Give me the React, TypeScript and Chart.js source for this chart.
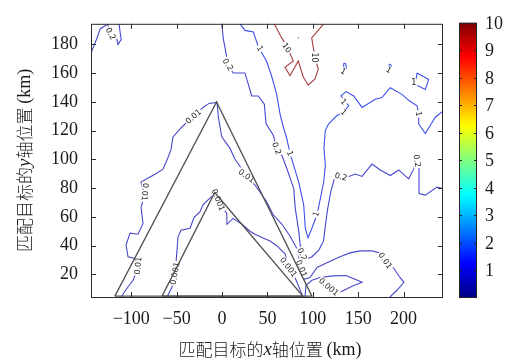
import React, { useEffect, useRef } from 'react';
import { Chart, registerables } from 'chart.js';

Chart.register(...registerables);

type Pt = [number, number];

// ---------- axes ----------
const xRange: [number, number] = [-144.3, 243.4];
const yRange: [number, number] = [4.3, 194.4];
const xTickValues = [-100, -50, 0, 50, 100, 150, 200];
const yTickValues = [20, 40, 60, 80, 100, 120, 140, 160, 180];
const colorbarRange: [number, number] = [0, 10];
const colorbarTicks = [1, 2, 3, 4, 5, 6, 7, 8, 9, 10];

// ---------- reference triangles ----------
const outerTriangle: Pt[] = [[-118, 4.9], [-6, 140], [99, 4.9], [-118, 4.9]];
const innerTriangle: Pt[] = [[-66, 4.9], [-8, 77], [89, 4.9], [-66, 4.9]];

// ---------- contour lines (level 0.2) ----------
const level02TopLeft: Pt[] = [
  [-144.3, 174], [-138, 184], [-134, 191], [-126, 194], [-122, 188], [-116.4, 185.3],
  [-114.5, 180], [-111, 183.6], [-112.3, 188.7], [-113.4, 194.4],
];
const level02Main: Pt[] = [
  [-0.3, 194.4], [1.4, 184.1], [4.1, 175], [6.9, 165], [12.4, 160.2], [25.3, 160.2], [29, 152.2],
  [32.7, 144.2], [40, 144.2], [46.6, 138.5], [48.5, 124.8], [56.5, 116.9], [60.2, 107.7],
  [66.1, 102.5], [71.6, 93.4], [79, 79.7], [80.7, 66], [84.5, 50.1], [86.2, 39.8], [88.1, 34.1],
  [91.4, 30.2], [99.1, 32.3], [106.8, 37.1], [111.8, 43.3], [113.8, 53.5], [116.2, 65.1],
  [120, 78.1], [124.8, 88.8], [131, 88], [137.7, 87.7], [146.8, 89.9], [154.2, 88.2],
  [165.2, 96.8], [174.3, 92.7], [185.4, 88.8], [194.6, 92.7], [205.6, 86.5], [211.5, 93.8],
  [214.8, 101.4], [217, 93.8], [217, 76.3], [223.9, 75.2], [236.8, 80.8], [245, 79.5],
];

// ---------- contour lines (level 1) ----------
const level1Main: Pt[] = [
  [19.8, 194.4], [25.3, 189.8], [34.5, 188.7], [36.3, 185.3], [40, 178.4], [49.2, 168.2],
  [54.7, 157.9], [60.2, 145.3], [63.9, 131.7], [67.5, 122.6], [71.3, 114.6], [74.9, 104.3],
  [79, 95.7], [84.5, 84.3], [90, 68.3], [91.7, 52.3], [94.7, 45.5], [99.1, 52.3], [104.6, 61.5],
  [108.3, 72.8], [112, 84.3], [113.8, 95.7], [112.3, 108.2], [113.8, 120.3], [117.5, 124.8],
  [126.6, 130.6], [134, 132.8], [139.5, 137.4], [135.1, 140.8], [131, 144.2], [136.6, 147.2],
  [145, 144.2], [154.2, 136.2], [168.8, 141.9], [176.2, 143.1], [185.3, 149.9], [198.2, 145.3],
  [206.3, 140.8], [214.8, 137.4], [216.6, 131.7], [216.6, 124.8], [223.9, 118], [234.9, 129.4],
  [245, 134.4],
];
const level1Loop: Pt[] = [[214.8, 160.2], [227.6, 155.6], [223.9, 148.7], [212.9, 152.2], [214.8, 160.2]];
const level1DotA: Pt[] = [[134, 167], [136.5, 166.5], [137, 163.5], [135, 162], [133.5, 164], [134, 167]];
const level1DotB: Pt[] = [[184, 166.5], [186.3, 165.5], [186, 162.5], [184, 162.5], [184, 166.5]];

// ---------- contour lines (level 10) ----------
const level10Main: Pt[] = [
  [57.5, 194.4], [65.7, 184.6], [71.2, 178.9], [78.5, 168.6], [69.4, 164.1], [74.9, 158.3],
  [84, 168.6], [89.5, 157.4], [95, 151.7], [102.4, 156.1], [106, 162.9], [102.4, 170.9],
  [98.8, 184.6], [112, 194.4],
];
const level10Dot: Pt[] = [[83.4, 184.6], [84.6, 184.6]];

// ---------- contour lines (level 0.01) ----------
const level001Main: Pt[] = [
  [-111.2, 4.3], [-104.6, 10.4], [-98, 15.9], [-94.7, 21.4], [-94.7, 30.9], [-103.5, 32.3],
  [-105.7, 40.5], [-101.3, 48.7], [-92.5, 48], [-87, 55.5], [-89.2, 66.5], [-85.9, 74],
  [-89.2, 84.3], [-73.8, 89.7], [-65, 93.2], [-59.5, 101.4], [-56.2, 106.8], [-54, 115.7],
  [-45.2, 121.9], [-37.4, 126.7], [-31.9, 129.4], [-20.9, 136.2], [-14.3, 139], [-5.5, 139.7],
  [-4, 129.4], [-0.3, 115.7], [8.8, 107.7], [14, 100.5], [19, 96], [27, 88.5], [36.3, 82.2],
  [49.2, 70.6], [56.2, 61.7], [66.1, 54.9], [74.9, 46.7], [82.6, 37.8], [85.9, 28.2],
  [87.6, 24.1], [90.3, 16.6], [96.9, 17.9], [104.6, 24.8], [115.6, 28.2], [130, 32.3],
  [141, 35], [152, 36.4], [165.2, 36.4], [174, 35], [179.8, 29.6], [189.4, 24.1], [196, 17.9],
  [200.4, 14.5], [192.7, 9], [185, 4.3],
];

// ---------- contour lines (level 0.001) ----------
const level0001Inner: Pt[] = [
  [-60.6, 4.3], [-55.1, 11.1], [-51.8, 20.7], [-50.7, 28.2], [-49.6, 36.4], [-48.5, 46],
  [-45.2, 50.8], [-35.2, 52.1], [-30.8, 59.6], [-24.2, 63.7], [-20.9, 68.5], [-14.3, 72.6],
  [-7.7, 76.1], [-4.1, 71.8], [0, 67.2], [5.2, 62.4], [5.5, 54.9], [12.1, 59], [22, 54.9],
  [30.8, 50.1], [36.3, 48], [45.2, 45.3], [52.9, 43.3], [60.6, 39.8], [69.4, 34.3],
  [73.2, 25.1], [80.4, 17.9], [87, 7.7], [89.2, 4.3],
];
const level0001Right: Pt[] = [
  [91.4, 4.3], [92.5, 12.5], [99.1, 15.9], [107.9, 17.9], [122.2, 19], [136.6, 19.3],
  [146.5, 16.6], [154.2, 14.5], [143.2, 11.8], [134.4, 9], [127.8, 7], [123.3, 4.3],
];

// ---------- contour labels ----------
const labelTexts = [
  '0.2', '0.2', '0.2', '0.2', '0.2', '0.2',
  '1', '1', '1', '1', '1', '1', '1', '1', '1',
  '10', '10',
  '0.01', '0.01', '0.01', '0.01', '0.01', '0.01',
  '0.001', '0.001', '0.001', '0.001',
];
const labelX = [
  -122.6, 6.5, 60.2, 88.1, 131, 214.8,
  41.8, 74.9, 103.5, 134, 134, 216.6, 211.1, 133.6, 183.6,
  71.2, 102.4,
  -84.8, -92.5, -31.6, 27, 87.6, 179.8,
  -51.8, -4.1, 73.2, 117.5,
];
const labelY = [
  187.5, 166, 107.7, 34.1, 88, 99,
  177.3, 104.3, 62, 132.8, 140.2, 131.7, 153.3, 161.3, 162.4,
  177.7, 170.9,
  77.4, 26.1, 129.9, 88.5, 24.1, 29.6,
  20.7, 71.8, 25.1, 11.3,
];
const labelAngle = [
  62, 58, 70, 65, 15, 80,
  60, 70, -70, 45, 45, 80, 0, 30, 30,
  55, 90,
  95, -85, -40, 35, 68, 55,
  -80, 68, 52, 40,
];

const levelColors: Record<string, string> = {
  '0.001': '#4848c8',
  '0.01': '#4848cc',
  '0.2': '#4646d0',
  '1': '#3d50ee',
  '10': '#a83c3c',
};

const contourSets: { level: string; pts: Pt[] }[] = [
  { level: '0.2', pts: level02TopLeft },
  { level: '0.2', pts: level02Main },
  { level: '1', pts: level1Main },
  { level: '1', pts: level1Loop },
  { level: '1', pts: level1DotA },
  { level: '1', pts: level1DotB },
  { level: '10', pts: level10Main },
  { level: '10', pts: level10Dot },
  { level: '0.01', pts: level001Main },
  { level: '0.001', pts: level0001Inner },
  { level: '0.001', pts: level0001Right },
];

const SERIF = '"Liberation Serif", "DejaVu Serif", serif';
const CJK = '"Noto Sans CJK SC", "Noto Sans CJK JP", sans-serif';

const fmtTick = (v: number) => (v < 0 ? '\u2212' + Math.abs(v) : String(v));

function drawRich(ctx: CanvasRenderingContext2D, parts: { t: string; f: string }[], cx: number, cy: number) {
  let total = 0;
  const widths = parts.map((p) => {
    ctx.font = p.f;
    const w = ctx.measureText(p.t).width;
    total += w;
    return w;
  });
  let x = cx - total / 2;
  ctx.textBaseline = 'middle';
  ctx.textAlign = 'left';
  parts.forEach((p, i) => {
    ctx.font = p.f;
    ctx.fillText(p.t, x, cy);
    x += widths[i];
  });
}

const titleParts = (axis: string) => [
  { t: '匹配目标的', f: `300 17px ${CJK}` },
  { t: axis, f: `italic 19px ${SERIF}` },
  { t: '轴位置 ', f: `300 17px ${CJK}` },
  { t: '(km)', f: `18px ${SERIF}` },
];

const labelPlugin = {
  id: 'contourLabels',
  beforeDatasetDraw(chart: any, args: any) {
    if (args.index !== 1) return;
    const { ctx, chartArea } = chart;
    const xs = chart.scales.x;
    const ys = chart.scales.y;
    ctx.save();
    ctx.beginPath();
    ctx.rect(chartArea.left, chartArea.top, chartArea.right - chartArea.left, chartArea.bottom - chartArea.top);
    ctx.clip();
    ctx.font = '8px "DejaVu Sans", sans-serif';
    ctx.textAlign = 'center';
    ctx.textBaseline = 'middle';
    labelTexts.forEach((t, i) => {
      const px = xs.getPixelForValue(labelX[i]);
      const py = ys.getPixelForValue(labelY[i]);
      ctx.save();
      ctx.translate(px, py);
      ctx.rotate((labelAngle[i] * Math.PI) / 180);
      const w = ctx.measureText(t).width;
      ctx.fillStyle = '#ffffff';
      ctx.fillRect(-w / 2 - 1, -4, w + 2, 8);
      ctx.fillStyle = '#222222';
      ctx.fillText(t, 0, 0.5);
      ctx.restore();
    });
    ctx.restore();
  },
};

const decorPlugin = {
  id: 'decor',
  afterDraw(chart: any) {
    const { ctx, chartArea } = chart;
    const { left, right, top, bottom } = chartArea;
    const xs = chart.scales.x;
    const ys = chart.scales.y;
    ctx.save();
    // frame
    ctx.strokeStyle = '#2a2a2a';
    ctx.lineWidth = 1;
    ctx.strokeRect(left + 0.5, top + 0.5, right - left - 1, bottom - top);
    // inward ticks
    ctx.beginPath();
    xTickValues.forEach((v) => {
      const x = Math.round(xs.getPixelForValue(v)) + 0.5;
      ctx.moveTo(x, bottom);
      ctx.lineTo(x, bottom - 5);
      ctx.moveTo(x, top);
      ctx.lineTo(x, top + 5);
    });
    yTickValues.forEach((v) => {
      const y = Math.round(ys.getPixelForValue(v)) + 0.5;
      ctx.moveTo(left, y);
      ctx.lineTo(left + 5, y);
      ctx.moveTo(right, y);
      ctx.lineTo(right - 5, y);
    });
    ctx.stroke();

    // colorbar
    const cbL = 459;
    const cbW = 18;
    const cbTop = top - 1;
    const cbBot = bottom + 1;
    const grad = ctx.createLinearGradient(0, cbBot, 0, cbTop);
    const stops: [number, string][] = [
      [0, '#000080'], [0.125, '#0000ff'], [0.375, '#00ffff'],
      [0.625, '#ffff00'], [0.875, '#ff0000'], [1, '#800000'],
    ];
    stops.forEach(([s, c]) => grad.addColorStop(s, c));
    ctx.fillStyle = grad;
    ctx.fillRect(cbL, cbTop, cbW, cbBot - cbTop);
    ctx.strokeStyle = '#222';
    ctx.strokeRect(cbL + 0.5, cbTop + 0.5, cbW - 1, cbBot - cbTop - 1);
    const vToY = (v: number) =>
      cbBot - ((v - colorbarRange[0]) / (colorbarRange[1] - colorbarRange[0])) * (cbBot - cbTop);
    ctx.beginPath();
    colorbarTicks.forEach((v) => {
      const y = Math.round(vToY(v)) + 0.5;
      ctx.moveTo(cbL, y);
      ctx.lineTo(cbL + 3, y);
      ctx.moveTo(cbL + cbW, y);
      ctx.lineTo(cbL + cbW - 3, y);
    });
    ctx.stroke();
    ctx.fillStyle = '#1a1a1a';
    ctx.font = `18px ${SERIF}`;
    ctx.textAlign = 'left';
    ctx.textBaseline = 'middle';
    colorbarTicks.forEach((v) => {
      ctx.fillText(String(v), cbL + cbW + 8, vToY(v) + 1);
    });

    // axis titles
    ctx.fillStyle = '#1a1a1a';
    drawRich(ctx, titleParts('x'), (left + right) / 2 + 3, 350);
    ctx.save();
    ctx.translate(25, (top + bottom) / 2);
    ctx.rotate(-Math.PI / 2);
    drawRich(ctx, titleParts('y'), 0, 0);
    ctx.restore();
    ctx.restore();
  },
};

export default function App() {
  const ref = useRef<HTMLCanvasElement | null>(null);

  useEffect(() => {
    if (!ref.current) return;
    const triangleSets = [outerTriangle, innerTriangle].map((pts) => ({
      data: pts.map(([x, y]) => ({ x, y })),
      showLine: true,
      borderColor: '#505050',
      borderWidth: 1.3,
      pointRadius: 0,
      fill: false,
      tension: 0,
    }));
    const contourDatasets = contourSets.map((c) => ({
      data: c.pts.map(([x, y]) => ({ x, y })),
      showLine: true,
      borderColor: levelColors[c.level],
      borderWidth: 1.1,
      pointRadius: 0,
      fill: false,
      tension: 0,
    }));

    const tickFont = { family: SERIF, size: 18 };
    const chart = new Chart(ref.current, {
      type: 'scatter',
      data: { datasets: [...triangleSets, ...contourDatasets] as any },
      options: {
        animation: false,
        responsive: false,
        devicePixelRatio: 1,
        events: [],
        layout: { padding: { left: 0, top: 19, right: 63, bottom: 0 } },
        plugins: { legend: { display: false }, tooltip: { enabled: false }, title: { display: false } },
        scales: {
          x: {
            type: 'linear',
            min: xRange[0],
            max: xRange[1],
            grid: { display: false, drawTicks: false },
            border: { display: false },
            afterFit: (s: any) => {
              s.height = 66;
            },
            afterBuildTicks: (s: any) => {
              s.ticks = xTickValues.map((v) => ({ value: v }));
            },
            ticks: {
              padding: 11,
              color: '#1a1a1a',
              font: tickFont,
              maxRotation: 0,
              autoSkip: false,
              callback: (v: any) => fmtTick(Number(v)),
            },
          },
          y: {
            type: 'linear',
            min: yRange[0],
            max: yRange[1],
            grid: { display: false, drawTicks: false },
            border: { display: false },
            afterFit: (s: any) => {
              s.width = 91;
            },
            afterBuildTicks: (s: any) => {
              s.ticks = yTickValues.map((v) => ({ value: v }));
            },
            ticks: {
              padding: 13,
              color: '#1a1a1a',
              font: tickFont,
              autoSkip: false,
              callback: (v: any) => fmtTick(Number(v)),
            },
          },
        },
      } as any,
      plugins: [labelPlugin, decorPlugin],
    });
    return () => chart.destroy();
  }, []);

  return (
    <div style={{ position: 'fixed', left: 0, top: 0, width: 506, height: 363, background: '#fff' }}>
      <canvas ref={ref} width={506} height={363} style={{ display: 'block', width: 506, height: 363 }} />
    </div>
  );
}
